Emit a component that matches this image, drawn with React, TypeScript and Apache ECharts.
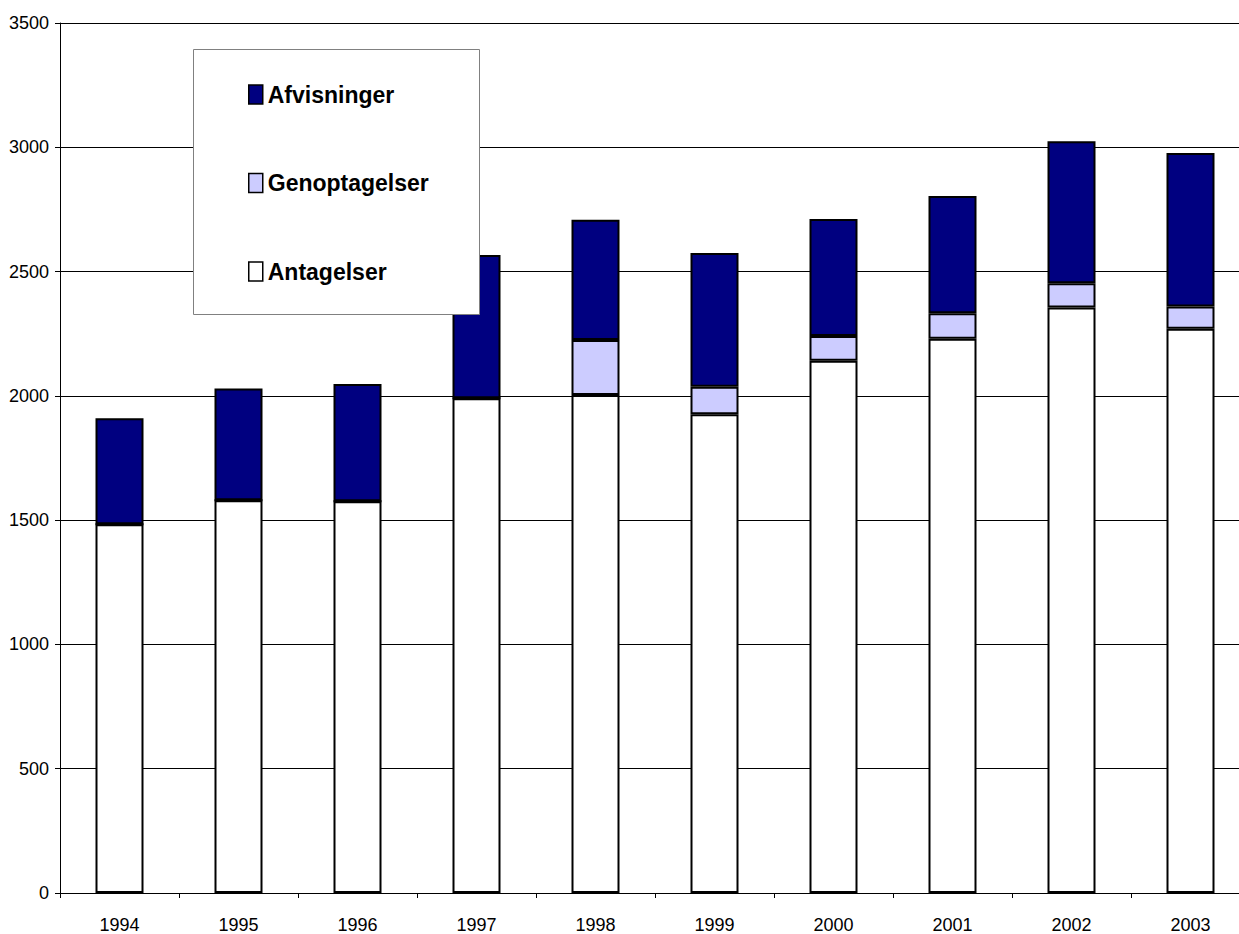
import React, { useEffect, useRef } from "react";
import * as echarts from "echarts";

const years = ["1994", "1995", "1996", "1997", "1998", "1999", "2000", "2001", "2002", "2003"];
const antagelser = [1483, 1580, 1576, 1990, 2003, 1926, 2141, 2230, 2355, 2270];
const genoptagelser = [0, 0, 0, 0, 222, 111, 100, 102, 98, 89];
const afvisninger = [427, 450, 472, 577, 483, 538, 470, 472, 571, 618];

const FONT = "'Liberation Sans', Arial, sans-serif";

export default function App() {
  const ref = useRef<HTMLDivElement>(null);
  useEffect(() => {
    if (!ref.current) return;
    const chart = echarts.init(ref.current, undefined, { renderer: "svg" });
    const barStyle = (color: string) => ({
      color,
      borderColor: "#000000",
      borderWidth: 2,
    });
    chart.setOption({
      animation: false,
      backgroundColor: "#ffffff",
      grid: {
        left: 60,
        top: 23,
        width: 1190,
        height: 870,
        containLabel: false,
        outerBoundsMode: "none",
      },
      xAxis: {
        type: "category",
        data: years,
        boundaryGap: true,
        axisLine: { show: true, lineStyle: { color: "#000000", width: 1 } },
        axisTick: { show: true, length: 5, alignWithLabel: false, lineStyle: { color: "#000000" } },
        axisLabel: { color: "#000000", fontFamily: FONT, fontSize: 18, margin: 23 },
        splitLine: { show: false },
      },
      yAxis: {
        type: "value",
        min: 0,
        max: 3500,
        interval: 500,
        axisLine: { show: true, lineStyle: { color: "#000000", width: 1 } },
        axisTick: { show: true, length: 5, lineStyle: { color: "#000000" } },
        axisLabel: {
          color: "#000000",
          fontFamily: FONT,
          fontSize: 18,
          margin: 11,
          formatter: (v: number) => String(v),
        },
        splitLine: { show: true, lineStyle: { color: "#000000", width: 1 } },
      },
      legend: {
        orient: "vertical",
        left: 248,
        top: 83,
        padding: 0,
        itemWidth: 14,
        itemHeight: 19,
        itemGap: 65.5,
        z: 10,
        icon: "rect",
        data: ["Afvisninger", "Genoptagelser", "Antagelser"],
        itemStyle: { borderWidth: 1.5, borderColor: "#000000" },
        textStyle: {
          color: "#000000",
          fontFamily: FONT,
          fontWeight: "bold",
          fontSize: 23,
        },
        selectedMode: false,
      },
      graphic: [
        {
          type: "rect",
          z: 8,
          shape: { x: 193.5, y: 49.5, width: 286, height: 265 },
          style: { fill: "#ffffff", stroke: "#808080", lineWidth: 1 },
        },
      ],
      series: [
        {
          name: "Antagelser",
          type: "bar",
          stack: "total",
          barWidth: 48,
          data: antagelser,
          itemStyle: barStyle("#ffffff"),
        },
        {
          name: "Genoptagelser",
          type: "bar",
          stack: "total",
          barWidth: 48,
          data: genoptagelser,
          itemStyle: barStyle("#ccccff"),
        },
        {
          name: "Afvisninger",
          type: "bar",
          stack: "total",
          barWidth: 48,
          data: afvisninger,
          itemStyle: barStyle("#000080"),
        },
      ],
    });
    return () => chart.dispose();
  }, []);
  return (
    <div
      ref={ref}
      style={{ position: "absolute", left: 0, top: 0, width: 1239, height: 934 }}
    />
  );
}
